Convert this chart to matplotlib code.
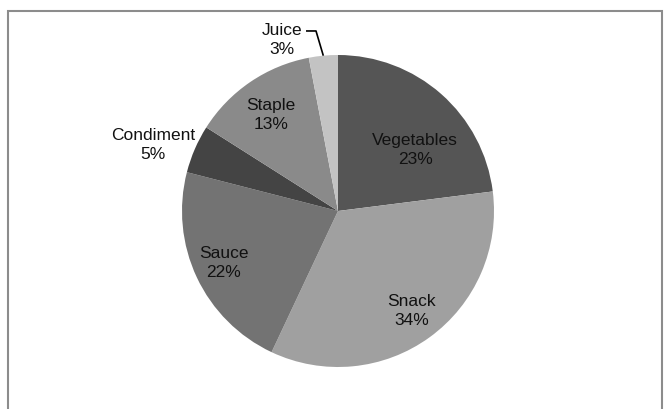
import matplotlib
matplotlib.use('Agg')
import matplotlib.pyplot as plt
import numpy as np
from matplotlib.patches import Rectangle

# food categories, clockwise from 12 o'clock
categories = ['Vegetables', 'Snack', 'Sauce', 'Condiment', 'Staple', 'Juice']
shares = [23, 34, 22, 5, 13, 3]
colors = ['#555555', '#a0a0a0', '#737373', '#444444', '#8a8a8a', '#c3c3c3']

# label anchors (pie radius = 1)
label_pos = [(0.494, 0.397), (0.474, -0.635), (-0.731, -0.327),
             (-1.186, 0.429), (-0.429, 0.622), (-0.359, 1.103)]

W, H = 665, 410
CX, CY, R = 338, 212, 156   # pie centre and radius in pixels

plt.rcParams['font.family'] = ['Liberation Sans', 'DejaVu Sans']

fig = plt.figure(figsize=(W / 100, H / 100), dpi=100)
ax = fig.add_axes([0, 0, 1, 1])

wedges, _ = ax.pie(shares, colors=colors, startangle=90, counterclock=False,
                   radius=1, wedgeprops=dict(linewidth=0))

# pie() resets the limits, so set them afterwards
ax.set_xlim(-CX / R, (W - CX) / R)
ax.set_ylim(-(H - CY) / R, CY / R)
ax.axis('off')

for name, val, (x, y) in zip(categories, shares, label_pos):
    ax.text(x, y, '%s\n%d%%' % (name, val), ha='center', va='center',
            fontsize=12.5, color='#111111', linespacing=1.35)

# leader line for the small juice slice
juice = wedges[-1]
mid = 0.5 * (juice.theta1 + juice.theta2)
ex, ey = np.cos(np.radians(mid)), np.sin(np.radians(mid))
ax.plot([-0.205, -0.141, ex], [1.154, 1.154, ey], color='black', lw=1.2,
        solid_capstyle='butt')

# chart area frame
fig.patches.append(Rectangle((8 / W, -0.05), (662 - 8) / W, 1.05 - 12 / H,
                             transform=fig.transFigure, fill=False,
                             edgecolor='#8c8c8c', linewidth=1.5))

fig.savefig('out.png', dpi=100)
